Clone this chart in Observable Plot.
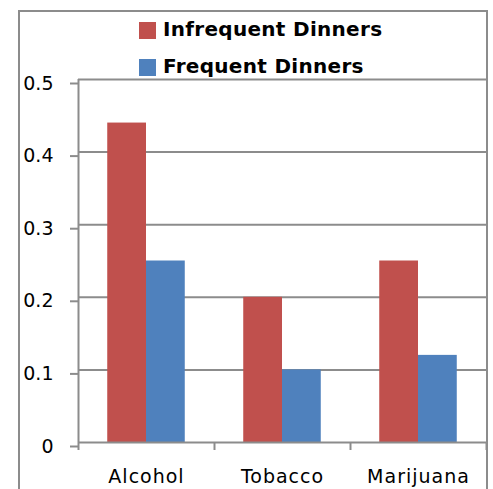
<!DOCTYPE html>
<html>
<head>
<meta charset="utf-8">
<script src="https://cdn.jsdelivr.net/npm/d3@7"></script>
<script src="https://cdn.jsdelivr.net/npm/@observablehq/plot@0.6"></script>
<style>
  html, body { margin: 0; padding: 0; background: #fff; }
  #wrap { position: relative; width: 493px; height: 489px; overflow: hidden; }
  #frame { position: absolute; left: 18px; top: 10px; width: 466px; height: 500px; border: 2px solid #8c8c8c; box-sizing: content-box; pointer-events: none; }
  #legend { position: absolute; left: 139px; top: 22px; font-family: "DejaVu Sans", sans-serif; font-weight: bold; font-size: 20px; letter-spacing: 0.3px; color: #000; }
  .item { position: absolute; left: 0; white-space: nowrap; height: 17px; }
  .sw { position: absolute; left: 0; top: 0; width: 17px; height: 17px; }
  .lb { position: absolute; left: 24px; top: -4px; line-height: 22px; }
  g[aria-label="x-axis tick label"] text { letter-spacing: 1px; }
  svg { position: absolute; left: 0; top: 0; }
</style>
</head>
<body>
<div id="wrap">
  <div id="chart"></div>
  <div id="frame"></div>
  <div id="legend"></div>
</div>
<script>
const categories = ["Alcohol", "Tobacco", "Marijuana"];
const seriesNames = ["Infrequent Dinners", "Frequent Dinners"];
const infrequent = [0.44, 0.20, 0.25];
const frequent = [0.25, 0.10, 0.12];
const colors = ["#c0504d", "#4f81bd"];
const yTicks = [0, 0.1, 0.2, 0.3, 0.4, 0.5];
const yTickLabels = ["0", "0.1", "0.2", "0.3", "0.4", "0.5"];

const seriesValues = [infrequent, frequent];
const rows = [];
seriesValues.forEach((vals, j) => {
  vals.forEach((v, i) => rows.push({ i, j, value: v, series: seriesNames[j] }));
});

const barW = 0.285; // fraction of category width
const gridColor = "#8c8c8c";

const chart = Plot.plot({
  width: 493,
  height: 489,
  marginLeft: 78,
  marginRight: 7,
  marginTop: 79,
  marginBottom: 47,
  style: { fontFamily: "DejaVu Sans, sans-serif", fontSize: "19px", color: "#000", background: "transparent" },
  x: { type: "linear", domain: [0, categories.length] },
  y: { domain: [0, 0.5] },
  color: { domain: seriesNames, range: colors },
  marks: [
    Plot.gridY({ ticks: yTicks.slice(1), stroke: gridColor, strokeOpacity: 1, strokeWidth: 2 }),
    Plot.rectY(rows, {
      x1: d => d.i + 0.5 - barW + d.j * barW,
      x2: d => d.i + 0.5 + d.j * barW,
      y1: 0,
      y2: "value",
      fill: "series"
    }),
    Plot.ruleY([0], { stroke: gridColor, strokeWidth: 2 }),
    Plot.ruleX([0], { stroke: gridColor, strokeWidth: 2 }),
    Plot.axisY({
      ticks: yTicks,
      tickSize: 8,
      tickPadding: 17,
      tickFormat: d => yTickLabels[yTicks.indexOf(d)],
      stroke: gridColor,
      strokeWidth: 2,
      strokeOpacity: 1,
      fill: "#000",
      fontSize: 19,
      dy: 4,
      label: null
    }),
    Plot.axisX({
      ticks: d3.range(0, categories.length + 1),
      tickSize: 8,
      tickFormat: () => "",
      stroke: gridColor,
      strokeWidth: 2,
      strokeOpacity: 1,
      label: null
    }),
    Plot.axisX({
      ticks: categories.map((c, i) => i + 0.5),
      tickSize: 0,
      tickPadding: 27,
      tickFormat: d => categories[d - 0.5],
      fill: "#000",
      fontSize: 19,
      label: null
    })
  ]
});
document.getElementById("chart").appendChild(chart);

const legend = document.getElementById("legend");
seriesNames.forEach((name, j) => {
  const item = document.createElement("div");
  item.className = "item";
  item.style.top = (j * 37) + "px";
  const sw = document.createElement("div");
  sw.className = "sw";
  sw.style.background = colors[j];
  const lb = document.createElement("div");
  lb.className = "lb";
  lb.textContent = name;
  item.appendChild(sw);
  item.appendChild(lb);
  legend.appendChild(item);
});
</script>
</body>
</html>
